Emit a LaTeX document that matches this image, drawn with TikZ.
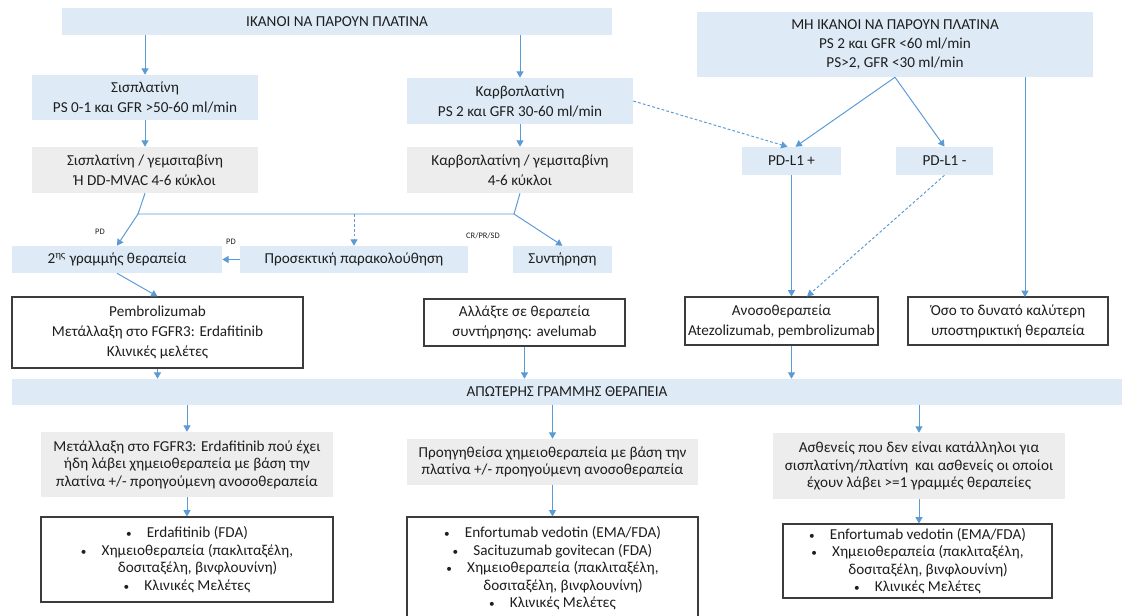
\documentclass[tikz,border=0pt]{standalone}
\usepackage{fontspec}
\setmainfont{Carlito}
\usetikzlibrary{arrows.meta}
\definecolor{boxblue}{RGB}{222,235,247}
\definecolor{boxgrey}{RGB}{237,237,237}
\definecolor{arrowcol}{RGB}{91,155,213}
\definecolor{boxline}{RGB}{60,60,60}
\definecolor{txtcol}{RGB}{30,30,30}
\newcommand{\bul}{{\fontsize{8}{8}\selectfont •}\hspace{1em}}

\begin{document}
\begin{tikzpicture}[
  x=0.025cm, y=-0.025cm,
  font=\fontsize{10.8}{14.2}\selectfont,
  every node/.style={align=center, inner sep=2pt, text=txtcol},
  sz/.style 2 args={minimum width=#1*0.025cm, minimum height=#2*0.025cm},
  bluebox/.style={fill=boxblue},
  greybox/.style={fill=boxgrey},
  whitebox/.style={draw=boxline, line width=0.8pt, fill=white},
  tight/.style={font=\fontsize{10.8}{12.4}\selectfont},
  tag/.style={font=\fontsize{6}{7}\selectfont, inner sep=1pt},
  link/.style={draw=arrowcol, line width=0.7pt},
  arr/.style={link, -{Triangle[width=5pt,length=4.5pt]}},
  darr/.style={arr, dash pattern=on 2pt off 1.5pt},
]
\useasboundingbox (0,0) rectangle (1126,616);

% ---- Top: platinum eligible / not eligible ----
\node (ikanoi)   at (337,21.5)  [bluebox, sz={550}{27}] {ΙΚΑΝΟΙ ΝΑ ΠΑΡΟΥΝ ΠΛΑΤΙΝΑ};
\node (mhikanoi) at (895,44.5)  [bluebox, sz={396}{65}, font=\fontsize{10.8}{13.6}\selectfont] {ΜΗ ΙΚΑΝΟΙ ΝΑ ΠΑΡΟΥΝ ΠΛΑΤΙΝΑ\\PS 2 και GFR <60 ml/min\\PS>2, GFR <30 ml/min};

\node (sis)      at (145,97.5)  [bluebox, sz={226}{45}] {Σισπλατίνη\\PS 0-1 και GFR >50-60 ml/min};
\node (karbo)    at (520,101)   [bluebox, sz={226}{46}] {Καρβοπλατίνη\\PS 2 και GFR 30-60 ml/min};

\node (sisgem)   at (145,170)   [greybox, sz={226}{46}] {Σισπλατίνη / γεμσιταβίνη\\Ή DD-MVAC 4-6 κύκλοι};
\node (karbogem) at (520,170)   [greybox, sz={226}{46}] {Καρβοπλατίνη / γεμσιταβίνη\\4-6 κύκλοι};
\node (pdpos)    at (791.5,161) [bluebox, sz={99}{28}]  {PD-L1 +};
\node (pdneg)    at (944.5,161) [bluebox, sz={97}{28}]  {PD-L1 -};

% ---- Response row ----
\coordinate (jl) at (138,214);
\coordinate (jr) at (514,214);
\node (second)   at (117,259.5) [bluebox, sz={210}{27}] {2\textsuperscript{ης} γραμμής θεραπεία};
\node (prosek)   at (354,259.5) [bluebox, sz={228}{27}] {Προσεκτική παρακολούθηση};
\node (syntir)   at (562.5,259.5) [bluebox, sz={99}{27}] {Συντήρηση};

\node[tag] (pdl)  at (100,232) {PD};
\node[tag] (pdr)  at (231,242) {PD};
\node[tag] (crpr) at (483,236) {CR/PR/SD};

% ---- Treatments ----
\node (pembro)   at (157.5,332.5) [whitebox, sz={291}{71}] {Pembrolizumab\\Μετάλλαξη στο FGFR3: Erdafitinib\\Κλινικές μελέτες};
\node (allaxte)  at (524.5,322.5) [whitebox, sz={201}{47}] {Αλλάξτε σε θεραπεία\\συντήρησης: avelumab};
\node (anoso)    at (781.5,321)   [whitebox, sz={193}{48}] {Ανοσοθεραπεία\\Atezolizumab, pembrolizumab};
\node (oso)      at (1008,321)    [whitebox, sz={200}{48}] {Όσο το δυνατό καλύτερη\\υποστηρικτική θεραπεία};
\coordinate (osoin) at (1025,297);

\node (apoteris) at (567,392) [bluebox, sz={1110}{26}] {ΑΠΩΤΕΡΗΣ ΓΡΑΜΜΗΣ ΘΕΡΑΠΕΙΑ};

% ---- Later lines ----
\node (fgfr)  at (187,464.5) [greybox, tight, sz={292}{65}] {Μετάλλαξη στο FGFR3: Erdafitinib πού έχει\\ήδη λάβει χημειοθεραπεία με βάση την\\πλατίνα +/- προηγούμενη ανοσοθεραπεία};
\node (proig) at (552.5,462) [greybox, tight, sz={291}{46}] {Προηγηθείσα χημειοθεραπεία με βάση την\\πλατίνα +/- προηγούμενη ανοσοθεραπεία};
\node (asth)  at (919,466)   [greybox, tight, sz={292}{66}] {Ασθενείς που δεν είναι κατάλληλοι για\\σισπλατίνη/πλατίνη\ \ και ασθενείς οι οποίοι\\έχουν λάβει >=1 γραμμές θεραπείες};

\node (treat1) at (187,559.5) [whitebox, tight, sz={292}{85}] {\bul Erdafitinib (FDA)\\\bul Χημειοθεραπεία (πακλιταξέλη,\\\hspace*{1.4em}δοσιταξέλη, βινφλουνίνη)\\\bul Κλινικές Μελέτες};
\node (treat2) at (552.5,568.5) [whitebox, tight, sz={291}{103}] {\bul Enfortumab vedotin (EMA/FDA)\\\bul Sacituzumab govitecan (FDA)\\\bul Χημειοθεραπεία (πακλιταξέλη,\\\hspace*{1.4em}δοσιταξέλη, βινφλουνίνη)\\\bul Κλινικές Μελέτες};
\node (treat3) at (917.5,561) [whitebox, tight, sz={269}{74}] {\bul Enfortumab vedotin (EMA/FDA)\\\bul Χημειοθεραπεία (πακλιταξέλη,\\\hspace*{1.4em}δοσιταξέλη, βινφλουνίνη)\\\bul Κλινικές Μελέτες};

% ---- Edges ----
\draw[arr] (ikanoi.south -| sis.north) -- (sis.north);
\draw[arr] (ikanoi.south -| karbo.north) -- (karbo.north);
\foreach \p/\c in {sis/sisgem, karbo/karbogem, fgfr/treat1, proig/treat2, asth/treat3}
  \draw[arr] (\p.south) -- (\p.south |- \c.north);

\draw[arr] (mhikanoi.south) -- ([xshift=0.1cm]pdpos.north);
\draw[arr] (mhikanoi.south) -- (pdneg.north);
\draw[darr] (karbo.east) -- ([xshift=-0.1cm]pdpos.north);
\draw[arr] (mhikanoi.south -| osoin) -- (osoin);

\draw[link] (sisgem.south) -- (jl) -- (jr) -- (karbogem.south);
\draw[arr] (jl) -- (second.north);
\draw[arr] (jr) -- (syntir.north);
\draw[darr] (prosek.north |- jl) -- (prosek.north);
\draw[arr] (prosek.west) -- (second.east);
\draw[arr] (second.south) -- (pembro.north);

\draw[arr] (pdpos.south) -- (pdpos.south |- anoso.north);
\draw[darr] (pdneg.south) -- ([xshift=0.64cm]anoso.north);

\foreach \n in {pembro, allaxte}
  \draw[arr] (\n.south) -- (\n.south |- apoteris.north);
\draw[arr] (pdpos |- anoso.south) -- (pdpos |- apoteris.north);
\foreach \n in {fgfr, proig, asth}
  \draw[arr] (\n.north |- apoteris.south) -- (\n.north);

\end{tikzpicture}
\end{document}
